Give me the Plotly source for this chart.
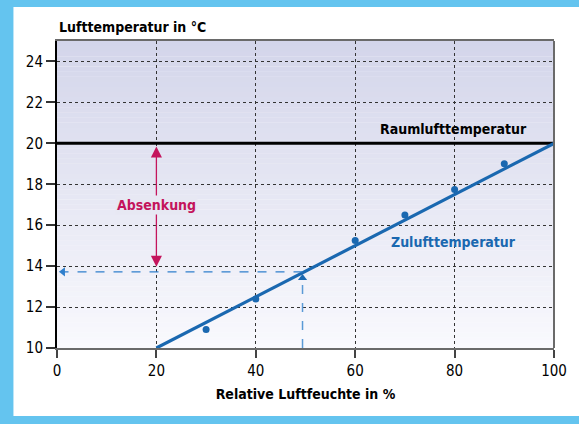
import plotly.graph_objects as go

# ---- data ----
humidity_pts = [30, 40, 60, 70, 80, 90]
supply_pts = [10.9, 12.4, 15.25, 16.5, 17.75, 19.0]
line_x = [20, 100]
line_y = [10, 20]
room_temp = 20
x_ticks = [0, 20, 40, 60, 80, 100]
y_ticks = [10, 12, 14, 16, 18, 20, 22, 24]
read_x = 49.4
read_y = 13.72
arrow_top = 19.85
arrow_bottom = 13.9

BLUE = "#1a68b0"
DASH_BLUE = "#2f7fcc"
DASH_BLUE2 = "#5a9ad6"
MAGENTA = "#c4145c"
FONT = "DejaVu Sans Condensed, Roboto, sans-serif"

fig = go.Figure()

fig.add_trace(go.Scatter(x=[0, 100], y=[room_temp, room_temp], mode="lines",
                         line=dict(color="black", width=3), hoverinfo="skip"))
fig.add_trace(go.Scatter(x=line_x, y=line_y, mode="lines",
                         line=dict(color=BLUE, width=3.2), hoverinfo="skip"))
fig.add_trace(go.Scatter(x=humidity_pts, y=supply_pts, mode="markers",
                         marker=dict(color=BLUE, size=7), hoverinfo="skip"))
fig.add_trace(go.Scatter(x=[read_x, 1.0], y=[read_y, read_y], mode="lines",
                         line=dict(color=DASH_BLUE, width=1.2, dash="dash"), hoverinfo="skip"))
fig.add_trace(go.Scatter(x=[read_x, read_x], y=[10, 13.3], mode="lines",
                         line=dict(color=DASH_BLUE2, width=1.5, dash="dash"), hoverinfo="skip"))
fig.add_trace(go.Scatter(x=[1.2], y=[read_y], mode="markers",
                         marker=dict(symbol="triangle-left", size=8, color=DASH_BLUE), hoverinfo="skip"))
fig.add_trace(go.Scatter(x=[read_x], y=[13.42], mode="markers",
                         marker=dict(symbol="triangle-up", size=8, color=BLUE), hoverinfo="skip"))

shapes = []
shapes.append(dict(type="rect", xref="paper", yref="paper",
                   x0=(13 - 57) / 502, x1=(590 - 57) / 502,
                   y0=(348 - 416) / 307, y1=(348 - 7) / 307,
                   fillcolor="white", line=dict(width=0), layer="below"))
N = 60
top = (211, 213, 234)
bot = (249, 249, 253)
for i in range(N):
    t = (i + 0.5) / N
    c = tuple(round(bot[k] + (top[k] - bot[k]) * t) for k in range(3))
    shapes.append(dict(type="rect", xref="x", yref="y", x0=0, x1=100,
                       y0=10 + 15 * i / N, y1=10 + 15 * (i + 1) / N + 0.01,
                       fillcolor="rgb(%d,%d,%d)" % c, line=dict(width=0), layer="below"))
shapes.append(dict(type="line", xref="paper", yref="paper", x0=1, x1=1, y0=0, y1=1,
                   line=dict(color="#6a6a6a", width=2)))

annotations = [
    dict(x=20, y=arrow_top, ax=20, ay=arrow_bottom, xref="x", yref="y", axref="x", ayref="y",
         text="", showarrow=True, arrowhead=2, startarrowhead=2, arrowside="end+start",
         arrowsize=1.7, startarrowsize=1.7, arrowwidth=1.3, arrowcolor=MAGENTA),
    dict(x=20, y=17.0, xref="x", yref="y", text="<b>Absenkung</b>", showarrow=False,
         font=dict(family=FONT, size=14, color=MAGENTA), bgcolor="rgb(231,232,243)"),
    dict(x=79.8, y=20.7, xref="x", yref="y", text="<b>Raumlufttemperatur</b>", showarrow=False,
         font=dict(family=FONT, size=14, color="black")),
    dict(x=79.8, y=15.2, xref="x", yref="y", text="<b>Zulufttemperatur</b>", showarrow=False,
         font=dict(family=FONT, size=14, color=BLUE)),
    dict(x=0, y=(348 - 27) / 307, xref="paper", yref="paper", xanchor="left", yanchor="middle",
         text="<b>Lufttemperatur in °C</b>", showarrow=False,
         font=dict(family=FONT, size=14, color="black")),
]

fig.update_layout(
    width=579, height=424,
    margin=dict(l=57, r=20, t=41, b=76),
    paper_bgcolor="#64c4ef",
    plot_bgcolor="rgba(0,0,0,0)",
    showlegend=False,
    shapes=shapes,
    annotations=annotations,
    font=dict(family=FONT, color="black"),
    xaxis=dict(range=[0, 100], tickvals=x_ticks, ticktext=[str(v) for v in x_ticks],
               showgrid=True, gridcolor="#333", griddash="dot", gridwidth=1,
               zeroline=False, showline=True, linecolor="#6a6a6a", linewidth=2, mirror=True,
               ticks="outside", ticklen=8, tickcolor="#444", tickwidth=1.5,
               tickfont=dict(family=FONT, size=15, color="black"),
               title=dict(text="<b>Relative Luftfeuchte in %</b>", standoff=10,
                          font=dict(family=FONT, size=14, color="black"))),
    yaxis=dict(range=[10, 25], tickvals=y_ticks, ticktext=[str(v) for v in y_ticks],
               showgrid=True, gridcolor="#333", griddash="dot", gridwidth=1,
               zeroline=False, showline=True, linecolor="black", linewidth=2,
               ticks="outside", ticklen=9, tickcolor="#333", tickwidth=1.5,
               tickfont=dict(family=FONT, size=15, color="black")),
)

fig.write_html("out.html", config={"displayModeBar": False},
               post_script="document.body.style.margin='0';document.body.style.background='#64c4ef';")
